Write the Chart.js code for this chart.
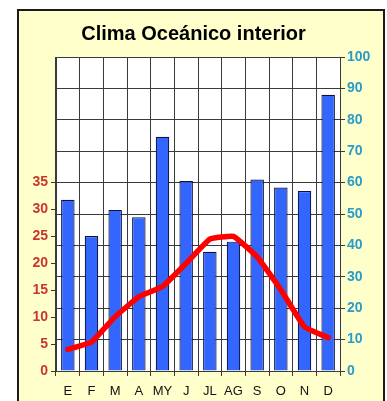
<!DOCTYPE html>
<html>
<head>
<meta charset="utf-8">
<script src="https://cdn.jsdelivr.net/npm/chart.js@4.4.1/dist/chart.umd.min.js"></script>
<style>
  html, body { margin: 0; padding: 0; background: #ffffff; }
  body { width: 387px; height: 401px; position: relative; overflow: hidden; }
  #panel {
    position: absolute; left: 17px; top: 9px; width: 364px; height: 400px;
    background: #FFFFCC; border: 2px solid #1a1a1a; box-sizing: content-box;
  }
  #wrap { position: absolute; left: 0; top: 0; width: 387px; height: 401px; }
</style>
</head>
<body>
<div id="panel"></div>
<div id="wrap"><canvas id="c" width="387" height="401"></canvas></div>
<script>
// Monthly climate data
const months = ['E', 'F', 'M', 'A', 'MY', 'J', 'JL', 'AG', 'S', 'O', 'N', 'D'];
const precipitation = [54.5, 43, 51.3, 49, 74.6, 60.5, 38, 41.2, 61, 58.4, 57.3, 88]; // mm
const temperature = [4.0, 5.4, 10.1, 13.8, 15.7, 20, 24.5, 25, 21.2, 15.1, 8.2, 6.2]; // °C
const tempTicks = [0, 5, 10, 15, 20, 25, 30, 35];
const precipTicks = [0, 10, 20, 30, 40, 50, 60, 70, 80, 90, 100];

const FONT = '"Liberation Sans", Arial, sans-serif';

const plotBackground = {
  id: 'plotBackground',
  beforeDraw(chart) {
    const { ctx, chartArea: a } = chart;
    ctx.save();
    ctx.fillStyle = '#ffffff';
    ctx.fillRect(a.left, a.top, a.right - a.left, a.bottom - a.top);
    ctx.restore();
  }
};

new Chart(document.getElementById('c'), {
  type: 'bar',
  data: {
    labels: months,
    datasets: [
      {
        type: 'line',
        label: 'Temperatura',
        data: temperature,
        yAxisID: 'y',
        borderColor: '#FF0000',
        borderWidth: 5.5,
        pointRadius: 0,
        tension: 0.1,
        borderCapStyle: 'round',
        borderJoinStyle: 'round',
        fill: false
      },
      {
        type: 'bar',
        label: 'Precipitación',
        data: precipitation,
        yAxisID: 'y2',
        backgroundColor: '#3366FF',
        borderColor: '#0d1240',
        borderWidth: 1.2,
        categoryPercentage: 1,
        barPercentage: 0.57
      }
    ]
  },
  plugins: [plotBackground],
  options: {
    responsive: false,
    animation: false,
    layout: { padding: 0 },
    plugins: {
      legend: { display: false },
      tooltip: { enabled: false },
      title: {
        display: true,
        text: 'Clima Oceánico interior',
        color: '#000000',
        font: { family: FONT, size: 20, weight: 'bold', lineHeight: 1.2 },
        padding: { top: 22, bottom: 11 }
      }
    },
    scales: {
      x: {
        offset: true,
        grid: { display: true, offset: true, color: '#3a3a3a', lineWidth: 1, tickLength: 5, drawOnChartArea: true },
        border: { display: true, color: '#3a3a3a', width: 1 },
        ticks: {
          color: '#111111',
          padding: 8,
          maxRotation: 0,
          autoSkip: false,
          font: { family: FONT, size: 13 }
        },
        afterFit(s) { s.height = 30; }
      },
      y: {
        position: 'left',
        min: 0,
        max: 35 / 0.6,
        afterBuildTicks(s) { s.ticks = tempTicks.map(v => ({ value: v })); },
        grid: { drawOnChartArea: false, drawTicks: true, tickLength: 5, color: '#3a3a3a' },
        border: { display: true, color: '#3a3a3a', width: 1 },
        ticks: {
          color: '#C8372D',
          padding: 3,
          font: { family: FONT, size: 14, weight: 'bold' }
        },
        afterFit(s) { s.width = 56; }
      },
      y2: {
        position: 'right',
        min: 0,
        max: 100,
        afterBuildTicks(s) { s.ticks = precipTicks.map(v => ({ value: v })); },
        grid: { drawOnChartArea: true, drawTicks: true, tickLength: 5, color: '#3a3a3a', lineWidth: 1 },
        border: { display: true, color: '#3a3a3a', width: 1 },
        ticks: {
          color: '#2A9CC8',
          padding: 2,
          font: { family: FONT, size: 14, weight: 'bold' }
        },
        afterFit(s) { s.width = 47; }
      }
    }
  }
});
</script>
</body>
</html>
